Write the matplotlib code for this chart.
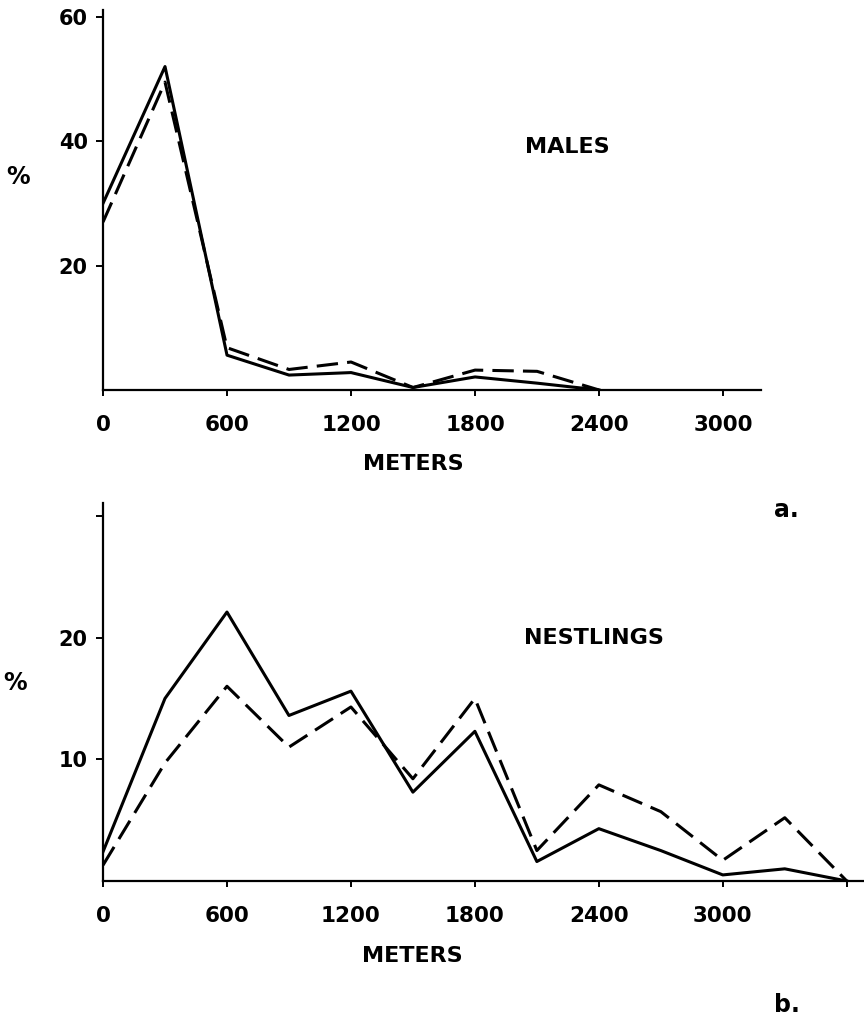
import matplotlib.pyplot as plt

# distances (m) and percent of individuals
males_x = [0, 300, 600, 900, 1200, 1500, 1800, 2100, 2400]
males_solid = [30, 52, 5.6, 2.4, 2.8, 0.4, 2.1, 1.1, 0]
males_dashed = [27, 49.5, 6.8, 3.3, 4.5, 0.4, 3.2, 3.0, 0]

nest_x = [0, 300, 600, 900, 1200, 1500, 1800, 2100, 2400, 2700, 3000, 3300, 3600]
nest_solid = [2.4, 15.0, 22.1, 13.6, 15.6, 7.3, 12.3, 1.6, 4.3, 2.5, 0.5, 1.0, 0]
nest_dashed = [1.3, 9.7, 16.0, 11.0, 14.3, 8.4, 15.0, 2.5, 7.9, 5.7, 1.7, 5.2, 0]

xticks_top = [0, 600, 1200, 1800, 2400, 3000]
xticks_bot = [0, 600, 1200, 1800, 2400, 3000, 3600]
xlabels_bot = ['0', '600', '1200', '1800', '2400', '3000', '']

plt.rcParams['font.family'] = 'DejaVu Sans'
plt.rcParams['font.weight'] = 'bold'

fig = plt.figure(figsize=(8.64, 10.15), dpi=100)
W, H = 864, 1015


def style(ax):
    for s in ['top', 'right']:
        ax.spines[s].set_visible(False)
    ax.spines['left'].set_linewidth(1.6)
    ax.spines['bottom'].set_linewidth(1.6)
    ax.tick_params(axis='x', length=4, width=1.4, pad=14, labelsize=15.5)
    ax.tick_params(axis='y', length=5, width=1.4, pad=6, labelsize=15)


# panel a
ax1 = fig.add_axes([103 / W, 1 - 390 / H, 658 / W, 380 / H])
ax1.plot(males_x, males_solid, color='black', lw=2.2)
ax1.plot(males_x, males_dashed, color='black', lw=2.2, dashes=(7, 3))
ax1.set_xlim(0, (761 - 103) / 0.2067)
ax1.set_ylim(0, 380 / 6.22)
ax1.set_xticks(xticks_top)
ax1.set_xticklabels(['0', '600', '1200', '1800', '2400', '3000'])
ax1.set_yticks([20, 40, 60])
style(ax1)
ax1.set_xlabel('METERS', fontsize=16, fontweight='bold')
ax1.xaxis.set_label_coords((413 - 103) / 658, -(454 - 390) / 380)
ax1.text(2040, 39, 'MALES', fontsize=16, fontweight='bold', va='center')

# panel b
ax2 = fig.add_axes([103 / W, 1 - 881 / H, 761 / W, 378 / H])
ax2.plot(nest_x, nest_solid, color='black', lw=2.2)
ax2.plot(nest_x, nest_dashed, color='black', lw=2.2, dashes=(7, 3))
ax2.set_xlim(0, (864 - 103) / 0.2066)
ax2.set_ylim(0, 378 / 12.17)
ax2.set_xticks(xticks_bot)
ax2.set_xticklabels(xlabels_bot)
ax2.set_yticks([10, 20, 30])
ax2.set_yticklabels(['10', '20', ''])
style(ax2)
ax2.set_xlabel('METERS', fontsize=16, fontweight='bold')
ax2.xaxis.set_label_coords((412 - 103) / 761, -(946 - 881) / 378)
ax2.text(2040, 20, 'NESTLINGS', fontsize=16, fontweight='bold', va='center')

fig.text(18 / W, 1 - 177 / H, '%', fontsize=17, fontweight='bold', ha='center', va='center')
fig.text(15 / W, 1 - 683 / H, '%', fontsize=17, fontweight='bold', ha='center', va='center')
fig.text(786 / W, 1 - 510 / H, 'a.', fontsize=17, fontweight='bold', ha='center', va='center')
fig.text(787 / W, 1 - 1005 / H, 'b.', fontsize=17, fontweight='bold', ha='center', va='center')

fig.savefig('out.png', dpi=100)
